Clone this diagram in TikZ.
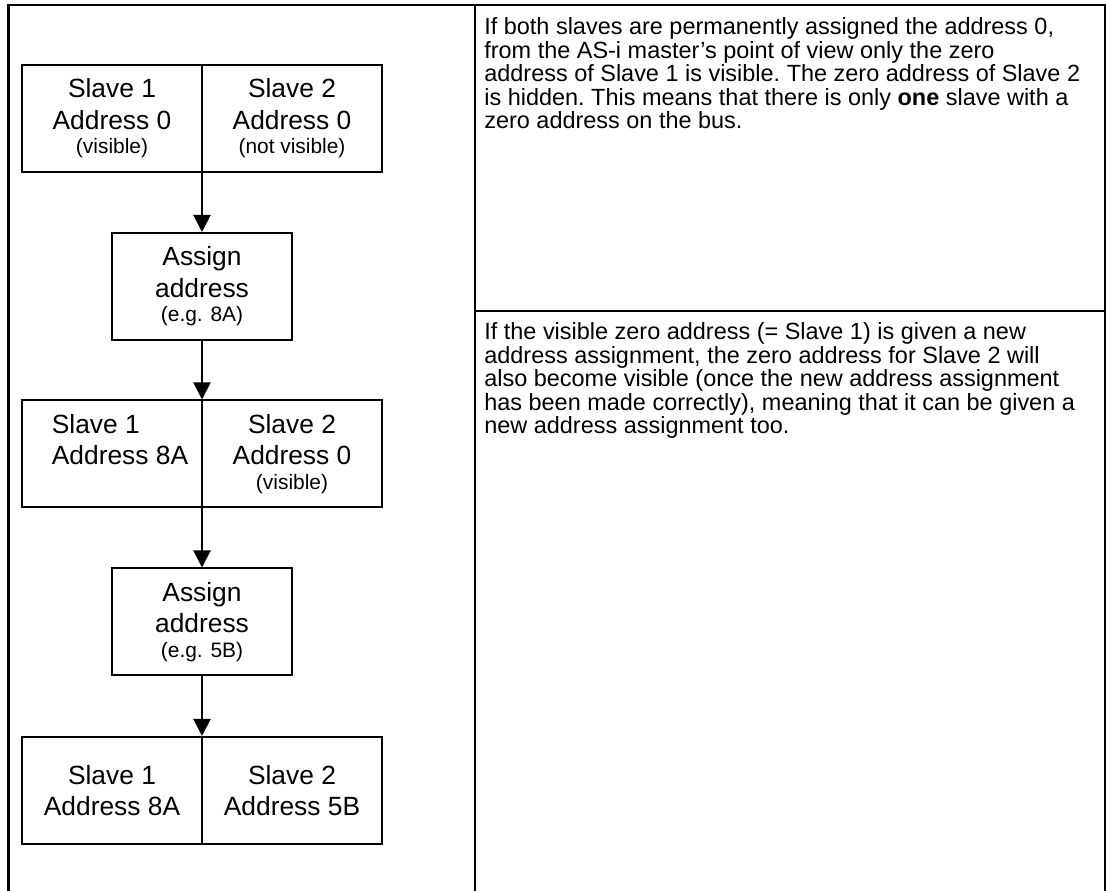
\documentclass[tikz,border=0pt]{standalone}
\usepackage{fontspec}
\setmainfont{Liberation Sans}
\usetikzlibrary{arrows.meta,positioning,calc}
\newdimen\px \px=0.02cm
\newcommand{\boxfont}{\fontsize{15.0}{18.0}\selectfont}
\newcommand{\notefont}{\fontsize{11.9}{14.0}\selectfont}
\newcommand{\infofont}{\fontsize{13.35}{13.37}\selectfont\frenchspacing}

\begin{document}
\begin{tikzpicture}[x=0.02cm,y=-0.02cm,>=Stealth,
    frame/.style={line width=2.5\px},
    pairbox/.style={draw,line width=2\px,minimum width=360\px,minimum height=107\px,inner sep=0pt},
    stepbox/.style={draw,line width=2\px,minimum width=180\px,minimum height=107\px,inner sep=0pt,
      font=\boxfont,align=center},
    celltext/.style={inner sep=0pt,font=\boxfont,align=center},
    infotext/.style={inner sep=0pt,font=\infofont,anchor=base west},
    flow/.style={line width=2\px,-{Triangle[width=9.7pt,length=9.7pt]}}]
  \useasboundingbox (0,0) rectangle (1106,891);
  % table frame
  \draw[frame] (8.5,891) -- (8.5,5) -- (1105,5) -- (1105,891);
  \draw[frame] (475,5) -- (475,891);
  \draw[frame] (475,311) -- (1105,311);

  % flow chart
  \node[pairbox] (row1) at (202,118.5) {};
  \node[stepbox] (step1) at (202,286.5) {Assign\\address\\[-7.2\px]{\notefont(e.g. 8A)}};
  \node[pairbox] (row2) at (202,454) {};
  \node[stepbox] (step2) at (202,622) {Assign\\address\\[-7.2\px]{\notefont(e.g. 5B)}};
  \node[pairbox] (row3) at (202,790.5) {};
  \foreach \r in {row1,row2,row3}
    \draw[line width=2\px] (\r.north) -- (\r.south);

  \node[celltext] (s1a) at ([xshift=-90\px]row1.center) {Slave 1\\Address 0\\[-7.2\px]{\notefont(visible)}};
  \node[celltext] (s2a) at ([xshift=90\px]row1.center) {Slave 2\\Address 0\\[-7.2\px]{\notefont(not visible)}};
  \node[celltext,align=left] (s1b) at ([xshift=-82\px]row2.center) {Slave 1\\Address 8A\\[-7.2\px]{\notefont\vphantom{(}}};
  \node[celltext] (s2b) at ([xshift=90\px]row2.center) {Slave 2\\Address 0\\[-7.2\px]{\notefont(visible)}};
  \node[celltext] (s1c) at ([xshift=-90\px]row3.center) {Slave 1\\Address 8A};
  \node[celltext] (s2c) at ([xshift=90\px]row3.center) {Slave 2\\Address 5B};

  \draw[flow] (row1.south) -- (step1.north);
  \draw[flow] (step1.south) -- (row2.north);
  \draw[flow] (row2.south) -- (step2.north);
  \draw[flow] (step2.south) -- (row3.north);

  % explanations, one node per printed line
  \foreach \txt [count=\i from 0] in {{If both slaves are permanently assigned the address 0,},
      {from the AS-i master's point of view only the zero},
      {address of Slave 1 is visible. The zero address of Slave 2},
      {is hidden. This means that there is only \textbf{one} slave with a},
      {zero address on the bus.}}
    \node[infotext] (infoa\i) at (484,{35+23.5*\i}) {\txt};
  \foreach \txt [count=\i from 0] in {{If the visible zero address (= Slave 1) is given a new},
      {address assignment, the zero address for Slave 2 will},
      {also become visible (once the new address assignment},
      {has been made correctly), meaning that it can be given a},
      {new address assignment too.}}
    \node[infotext] (infob\i) at (484,{340+23.5*\i}) {\txt};
\end{tikzpicture}
\end{document}
